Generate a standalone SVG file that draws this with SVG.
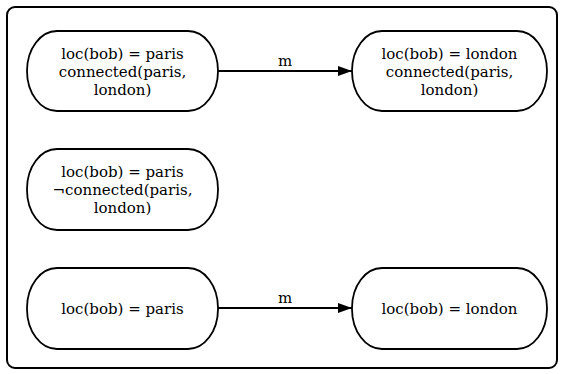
<svg xmlns="http://www.w3.org/2000/svg" width="563" height="374" viewBox="0 0 563 374">
<style>
.frame{fill:#fff;stroke:#000;stroke-width:2}
.node{fill:#fff;stroke:#000;stroke-width:1.8}
.t{font-family:"DejaVu Serif","Liberation Serif",serif;font-size:15px;text-anchor:middle;fill:#000}
.edge{stroke:#000;stroke-width:1.8;fill:none}
</style>
<defs>
<marker id="ah" viewBox="0 0 14 10" refX="14" refY="5" markerWidth="14" markerHeight="10" markerUnits="userSpaceOnUse" orient="auto">
<path d="M0,0 L14,5 L0,10 z" fill="#000"/>
</marker>
</defs>
<rect class="frame" x="7" y="7" width="550" height="361" rx="8" ry="8"/>
<g id="n1">
<rect class="node" x="27" y="31" width="191" height="80" rx="30" ry="40"/>
<text class="t" x="122.5" y="59">loc(bob) = paris</text>
<text class="t" x="122.5" y="77">connected(paris,</text>
<text class="t" x="122.5" y="95">london)</text>
</g>
<g id="n2">
<rect class="node" x="352" y="31" width="195" height="80" rx="30" ry="40"/>
<text class="t" x="449.5" y="59">loc(bob) = london</text>
<text class="t" x="449.5" y="77">connected(paris,</text>
<text class="t" x="449.5" y="95">london)</text>
</g>
<g id="n3">
<rect class="node" x="27" y="149" width="191" height="81" rx="30" ry="40"/>
<text class="t" x="122.5" y="177">loc(bob) = paris</text>
<text class="t" x="122.5" y="195">¬connected(paris,</text>
<text class="t" x="122.5" y="213">london)</text>
</g>
<g id="n4">
<rect class="node" x="27" y="268" width="191" height="81" rx="30" ry="40"/>
<text class="t" x="122.5" y="314">loc(bob) = paris</text>
</g>
<g id="n5">
<rect class="node" x="352" y="268" width="195" height="81" rx="30" ry="40"/>
<text class="t" x="449.5" y="314">loc(bob) = london</text>
</g>
<g id="edges">
<line class="edge" x1="218" y1="71" x2="352" y2="71" marker-end="url(#ah)"/>
<text class="t" x="285" y="66">m</text>
<line class="edge" x1="218" y1="308" x2="352" y2="308" marker-end="url(#ah)"/>
<text class="t" x="285" y="303">m</text>
</g>
</svg>
